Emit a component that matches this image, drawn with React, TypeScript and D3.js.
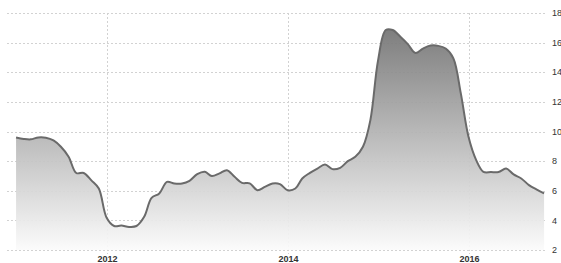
import React from "react";
import * as d3 from "d3";

const startYear = 2011;
const startMonth = 0;
const values = [
  9.6, 9.5, 9.47, 9.6, 9.58, 9.4, 8.97, 8.3, 7.2, 7.2, 6.7, 6.15,
  4.2, 3.62, 3.65, 3.56, 3.62, 4.24, 5.52, 5.82, 6.6, 6.49, 6.49, 6.67,
  7.12, 7.28, 6.99, 7.17, 7.39, 6.94, 6.53, 6.5, 6.04, 6.26, 6.49, 6.45,
  6.04, 6.15, 6.83, 7.21, 7.5, 7.77, 7.46, 7.55, 8.0, 8.29, 8.97, 10.77,
  14.8, 16.85, 16.85, 16.4, 15.9, 15.3, 15.6, 15.8, 15.78, 15.6, 14.94, 12.57,
  9.64, 8.07, 7.28, 7.26, 7.26, 7.5, 7.1, 6.83, 6.38, 6.09, 5.82,
];
const yTicks = [2, 4, 6, 8, 10, 12, 14, 16, 18];
const xTickYears = [2012, 2014, 2016];

export default function App() {
  const W = 561;
  const H = 263;
  const data = values.map((v, i) => ({ date: new Date(startYear, startMonth + i, 1), v }));

  const x = d3
    .scaleTime()
    .domain([new Date(2012, 0, 1), new Date(2016, 0, 1)])
    .range([106.5, 468.5]);
  const y = d3.scaleLinear().domain([2, 18]).range([250, 13]);

  const curve = d3.curveCatmullRom.alpha(0.5);
  const area = d3
    .area<{ date: Date; v: number }>()
    .x((d) => x(d.date))
    .y0(y(2))
    .y1((d) => y(d.v))
    .curve(curve);
  const line = d3
    .line<{ date: Date; v: number }>()
    .x((d) => x(d.date))
    .y((d) => y(d.v))
    .curve(curve);

  const gridLeft = 7;
  const gridRight = 547;

  return (
    <svg
      width={W}
      height={H}
      style={{ position: "absolute", left: 0, top: 0, background: "#fff" }}
      fontFamily="'Liberation Sans', Arial, sans-serif"
    >
      <defs>
        <linearGradient id="fillGrad" x1="0" y1={y(18)} x2="0" y2={y(2)} gradientUnits="userSpaceOnUse">
          <stop offset="0" stopColor="#6a6a6a" />
          <stop offset="1" stopColor="#fbfbfb" />
        </linearGradient>
      </defs>
      {yTicks.map((t) => (
        <g key={t}>
          <line
            x1={gridLeft}
            x2={gridRight}
            y1={Math.round(y(t)) + 0.5}
            y2={Math.round(y(t)) + 0.5}
            stroke="#d2d2d2"
            strokeDasharray="2,2"
          />
          <text x={552} y={y(t)} dy="0.35em" fontSize={9} fill="#333">
            {t}
          </text>
        </g>
      ))}
      {xTickYears.map((yr) => {
        const px = Math.round(x(new Date(yr, 0, 1))) + 0.5;
        return (
          <g key={yr}>
            <line x1={px} x2={px} y1={y(18)} y2={254} stroke="#d2d2d2" strokeDasharray="2,2" />
            <text x={px} y={262} textAnchor="middle" fontSize={9} fontWeight="bold" fill="#333">
              {yr}
            </text>
          </g>
        );
      })}
      <path d={area(data) || ""} fill="url(#fillGrad)" fillOpacity={0.93} />
      <path d={line(data) || ""} fill="none" stroke="#6a6a6a" strokeWidth={2} />
    </svg>
  );
}
